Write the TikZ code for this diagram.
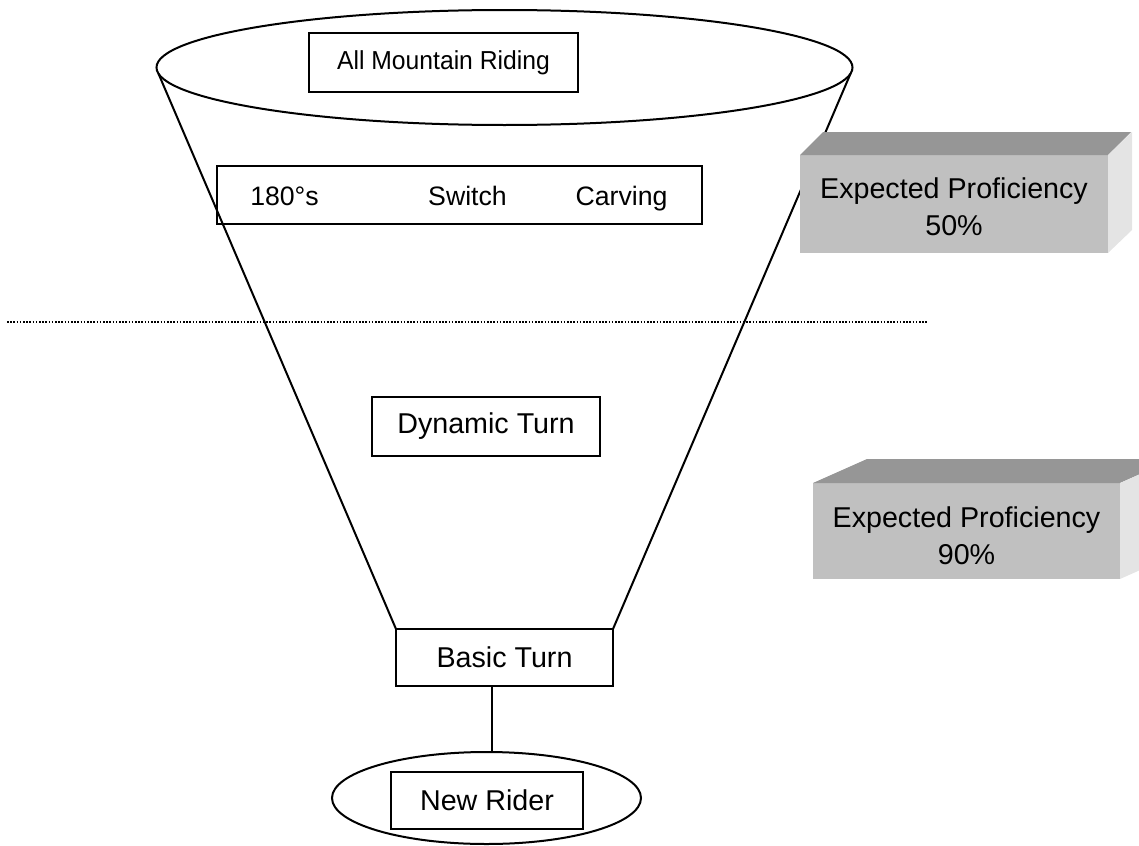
\documentclass[tikz,border=0pt]{standalone}
\usepackage{fontspec}
\setmainfont{Liberation Sans}
\newfontfamily\narrowsans[FakeStretch=0.95]{Liberation Sans}
\usetikzlibrary{shapes.geometric}
\definecolor{frontgray}{RGB}{192,192,192}
\definecolor{topgray}{RGB}{150,150,150}
\definecolor{sidegray}{RGB}{228,228,228}
\begin{document}
\begin{tikzpicture}[x=0.75pt,y=-0.75pt,
  every node/.style={inner sep=0pt,outer sep=0pt},
  big/.style={font=\fontsize{21.5}{27.4}\selectfont},
  mid/.style={font=\fontsize{20}{24}\selectfont},
  small/.style={font=\narrowsans\fontsize{19.5}{22}\selectfont},
  wbox/.style={draw,line width=1.5pt,align=center},
  oval/.style={ellipse,draw,line width=1.5pt},
  funnel/.style={line width=1.5pt},
  front/.style={fill=frontgray},
  proftext/.style={align=center,big},
  topface/.style={fill=topgray},
  sideface/.style={fill=sidegray},
  sep/.style={line width=1.2pt,dash pattern=on 1.2pt off 1.2pt}]
\useasboundingbox (0,0) rectangle (1139,846);

% top ellipse
\node[oval,minimum width=696*0.75pt,minimum height=115*0.75pt] (topell) at (504.5,67.5) {};
\node[wbox,small,minimum width=269*0.75pt,minimum height=59*0.75pt] (allmtn) at (443.5,62.5) {All Mountain Riding};

% row of skills
\node[wbox,minimum width=485*0.75pt,minimum height=58*0.75pt] (row) at (459.5,195) {};
\node[mid,anchor=base] (s180) at (284.5,205) {180°s};
\node[mid,anchor=base] (switch) at (467.5,205) {Switch};
\node[mid,anchor=base] (carving) at (621.5,205) {Carving};

% dynamic and basic turn
\node[wbox,big,minimum width=228*0.75pt,minimum height=59*0.75pt] (dynamic) at (486,426.5) {Dynamic Turn};
\node[wbox,big,minimum width=217*0.75pt,minimum height=57*0.75pt] (basic) at (504.5,657.5) {Basic Turn};

% new rider
\node[oval,minimum width=309*0.75pt,minimum height=92*0.75pt] (newell) at (486.5,798) {};
\node[wbox,big,minimum width=192*0.75pt,minimum height=57*0.75pt] (newrider) at (487,800.5) {New Rider};

% funnel sides
\draw[funnel] (topell.181.6) -- (basic.north west);
\draw[funnel] (topell.-1.6) -- (basic.north east);
\draw[funnel] ([xshift=-9.375pt]basic.south) -- ([xshift=-9.375pt]basic.south |- newell.north);

% dotted separator
\coordinate (dl) at (7,321.7);
\coordinate (dr) at (928,321.7);
\draw[sep] (dl) -- (dr);

% proficiency box 1
\node[front,minimum width=308*0.75pt,minimum height=98*0.75pt] (prof1) at (954,204) {};
\fill[topface] (prof1.north west) -- ++(23,-23) -- ++(308,0) -- (prof1.north east) -- cycle;
\fill[sideface] (prof1.north east) -- ++(24,-23) -- ++(0,98) -- (prof1.south east) -- cycle;
\node[proftext] (prof1text) at (954,207) {Expected Proficiency\\50\%};

% proficiency box 2
\node[front,minimum width=307*0.75pt,minimum height=96*0.75pt] (prof2) at (966.5,531) {};
\fill[topface] (prof2.north west) -- ++(54,-24) -- ++(307,0) -- (prof2.north east) -- cycle;
\fill[sideface] (prof2.north east) -- ++(54,-24) -- ++(0,96) -- (prof2.south east) -- cycle;
\node[proftext] (prof2text) at (966.5,536) {Expected Proficiency\\90\%};
\end{tikzpicture}
\end{document}
